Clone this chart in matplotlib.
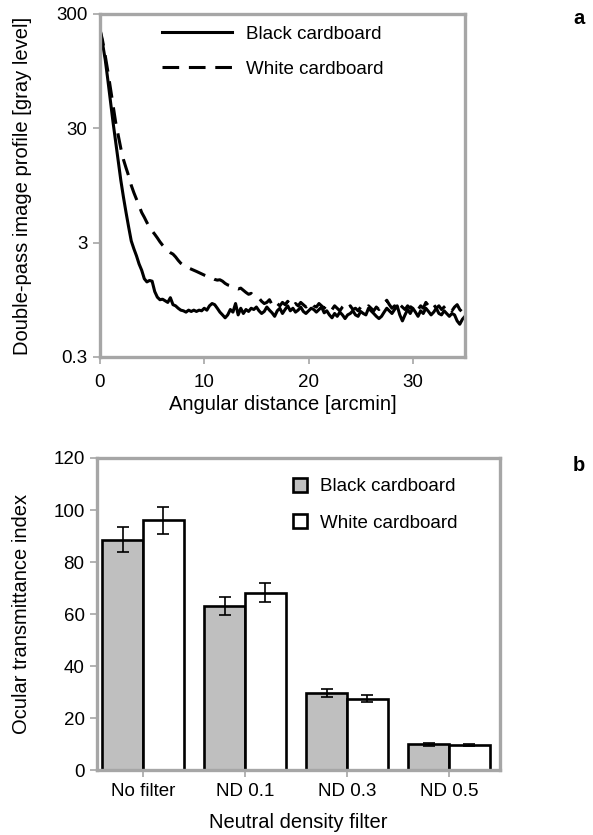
import numpy as np
import matplotlib
matplotlib.use('Agg')
import matplotlib.pyplot as plt
import matplotlib.ticker as ticker

plt.rcParams['font.family'] = ['Liberation Sans', 'DejaVu Sans']
plt.rcParams['lines.scale_dashes'] = False

# ---------- panel a: double-pass image profile ----------
profile_step = 0.25   # arcmin between samples
profile_x = np.arange(0, 35 + profile_step / 2, profile_step)

black_profile = [
    220, 165, 120, 80, 52, 34, 23, 15.5,
    10.5, 7.5, 5.5, 4.1, 3.1, 2.65, 2.3, 1.95,
    1.72, 1.45, 1.36, 1.4, 1.38, 1.12, 1.0, 0.95,
    0.96, 0.93, 0.9, 0.99, 0.86, 0.84, 0.8, 0.77,
    0.76, 0.74, 0.77, 0.75, 0.77, 0.75, 0.77, 0.76,
    0.8, 0.77, 0.84, 0.88, 0.86, 0.8, 0.74, 0.7,
    0.66, 0.7, 0.78, 0.74, 0.88, 0.7, 0.8, 0.72,
    0.78, 0.75, 0.8, 0.78, 0.82, 0.76, 0.72, 0.75,
    0.82, 0.77, 0.73, 0.68, 0.76, 0.8, 0.72, 0.78,
    0.84, 0.76, 0.8, 0.74, 0.77, 0.82, 0.75, 0.72,
    0.76, 0.8, 0.78, 0.74, 0.78, 0.82, 0.73, 0.76,
    0.7, 0.66, 0.72, 0.68, 0.74, 0.7, 0.65, 0.7,
    0.72, 0.76, 0.7, 0.68, 0.75, 0.72, 0.7, 0.8,
    0.76, 0.72, 0.68, 0.65, 0.68, 0.74, 0.8, 0.76,
    0.72, 0.78, 0.84, 0.7, 0.62, 0.7, 0.78, 0.72,
    0.8, 0.74, 0.68, 0.76, 0.72, 0.8, 0.75, 0.7,
    0.74, 0.8, 0.72, 0.7, 0.76, 0.72, 0.68, 0.72,
    0.7, 0.62, 0.58, 0.64, 0.68,
]

white_profile = [
    220, 175, 130, 95, 68, 48, 34, 26,
    20, 16, 13.5, 11.5, 9.5, 8.2, 7.2, 6.3,
    5.5, 5.0, 4.5, 4.1, 3.8, 3.55, 3.3, 3.05,
    2.85, 2.7, 2.55, 2.45, 2.38, 2.25, 2.1, 1.98,
    1.9, 1.85, 1.8, 1.76, 1.72, 1.68, 1.64, 1.6,
    1.56, 1.53, 1.5, 1.47, 1.43, 1.41, 1.42, 1.38,
    1.32, 1.28, 1.26, 1.22, 1.2, 1.18, 1.2, 1.15,
    1.1, 1.06, 1.08, 1.02, 1.0, 0.98, 0.92, 0.88,
    0.9, 0.95, 0.86, 0.92, 0.88, 0.84, 0.9, 0.86,
    0.92, 0.86, 0.82, 0.88, 0.84, 0.9, 0.86, 0.82,
    0.86, 0.9, 0.84, 0.82, 0.88, 0.84, 0.8, 0.86,
    0.82, 0.78, 0.84, 0.8, 0.76, 0.82, 0.86, 0.8,
    0.84, 0.78, 0.8, 0.76, 0.82, 0.78, 0.8, 0.84,
    0.8, 0.76, 0.82, 0.78, 0.84, 0.88, 0.94, 0.86,
    0.8, 0.84, 0.78, 0.86, 0.82, 0.78, 0.84, 0.8,
    0.86, 0.82, 0.78, 0.84, 0.8, 0.9, 0.84, 0.8,
    0.86, 0.8, 0.84, 0.78, 0.82, 0.86, 0.8, 0.76,
    0.82, 0.86, 0.78, 0.74, 0.8,
]

profile_yticks = [0.3, 3, 30, 300]
profile_ytick_labels = ['0.3', '3', '30', '300']
profile_xticks = [0, 10, 20, 30]

# ---------- panel b: ocular transmittance index ----------
filters = ['No filter', 'ND 0.1', 'ND 0.3', 'ND 0.5']
black_index = [88.5, 63.0, 29.5, 9.9]
black_err = [4.8, 3.4, 1.5, 0.5]
white_index = [96.0, 68.2, 27.5, 9.7]
white_err = [5.2, 3.7, 1.5, 0.4]

SPINE_GRAY = '#a6a6a6'
FONT_TICK = 13.5
FONT_LABEL = 14.5


def style_axes(ax):
    for side in ['left', 'right', 'top', 'bottom']:
        ax.spines[side].set_color(SPINE_GRAY)
        ax.spines[side].set_linewidth(2.4)
    ax.tick_params(axis='both', which='major', direction='out', length=5,
                   width=1.2, color=SPINE_GRAY, labelsize=FONT_TICK,
                   labelcolor='black', pad=4)
    ax.tick_params(axis='both', which='minor', length=0)


def draw_profile(ax):
    ax.plot(profile_x, black_profile, color='black', lw=2.2,
            solid_joinstyle='round', label='Black cardboard')
    ax.plot(profile_x, white_profile, color='black', lw=2.2,
            dashes=(12, 7), label='White cardboard')

    ax.set_yscale('log')
    ax.set_ylim(0.3, 300)
    ax.set_xlim(0, 35)
    ax.set_yticks(profile_yticks)
    ax.yaxis.set_major_formatter(ticker.FixedFormatter(profile_ytick_labels))
    ax.yaxis.set_minor_locator(ticker.NullLocator())
    ax.set_xticks(profile_xticks)

    style_axes(ax)
    ax.tick_params(axis='x', pad=7)
    ax.set_xlabel('Angular distance [arcmin]', fontsize=FONT_LABEL, labelpad=3)
    ax.set_ylabel('Double-pass image profile [gray level]',
                  fontsize=FONT_LABEL, labelpad=17)

    ax.legend(loc='upper left', bbox_to_anchor=(0.125, 1.015), frameon=False,
              fontsize=FONT_TICK, handlelength=3.7, handletextpad=0.75,
              labelspacing=0.95)


def draw_bars(ax):
    pos = np.arange(len(filters))
    w = 0.4
    err_style = dict(ecolor='black', elinewidth=1.2, capsize=4, capthick=1.2)
    ax.bar(pos - w / 2, black_index, w, color='#bfbfbf', edgecolor='black',
           linewidth=1.9, yerr=black_err, error_kw=err_style,
           label='Black cardboard', zorder=2)
    ax.bar(pos + w / 2, white_index, w, color='white', edgecolor='black',
           linewidth=1.9, yerr=white_err, error_kw=err_style,
           label='White cardboard', zorder=2)

    ax.set_xlim(-0.45, 3.5)
    ax.set_ylim(0, 120)
    ax.set_yticks(range(0, 121, 20))
    ax.set_xticks(pos)
    ax.set_xticklabels(filters)

    style_axes(ax)
    ax.set_xlabel('Neutral density filter', fontsize=FONT_LABEL, labelpad=10)
    ax.set_ylabel('Ocular transmittance index', fontsize=FONT_LABEL, labelpad=16)

    ax.legend(loc='upper left', bbox_to_anchor=(0.445, 0.99), frameon=False,
              fontsize=FONT_TICK, handlelength=0.75, handleheight=0.75,
              handletextpad=0.7, labelspacing=1.0)


fig = plt.figure(figsize=(5.93, 8.35), dpi=100)
ax_a = fig.add_axes([0.1686, 0.5725, 0.6155, 0.4108])
ax_b = fig.add_axes([0.1636, 0.0778, 0.6796, 0.3737])

draw_profile(ax_a)
draw_bars(ax_b)

fig.text(0.986, 0.978, 'a', fontsize=14.5, fontweight='bold', ha='right', va='center')
fig.text(0.986, 0.443, 'b', fontsize=14.5, fontweight='bold', ha='right', va='center')

fig.savefig('out.png', dpi=100)
